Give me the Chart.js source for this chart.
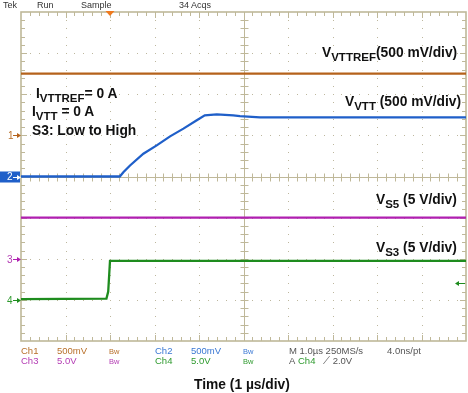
<!DOCTYPE html>
<html>
<head>
<meta charset="utf-8">
<script src="https://cdn.jsdelivr.net/npm/chart.js@4.4.0/dist/chart.umd.min.js"></script>
<style>
    body { margin: 0; background: #fff; }
    #wrap { position: relative; width: 468px; height: 393px; font-family: "Liberation Sans", Arial, sans-serif; overflow: hidden; }
    #wrap canvas { position: absolute; left: 0; top: 0; }
    .t { position: absolute; line-height: 1; white-space: nowrap; }
    .st { font-size: 9.5px; color: #555; }
    .hd { font-size: 9px; color: #333; }
    .mk { font-size: 10px; }
    .an { font-size: 13.8px; font-weight: bold; color: #111; }
    .an sub { font-size: 11.5px; vertical-align: -4px; line-height: 1; }
    .bw { font-size: 7.5px; }
    .c1 { color: #b8702a; } .c2 { color: #3a78d4; } .c3 { color: #b43cb4; } .c4 { color: #2e9a2e; }
</style>
</head>
<body>
<div id="wrap">
    <canvas id="scope" width="468" height="393"></canvas>

    <!-- cabeçalho -->
    <div class="t hd" data-x="3" data-b="9">Tek</div>
    <div class="t hd" data-x="37" data-b="9">Run</div>
    <div class="t hd" data-x="81" data-b="9">Sample</div>
    <div class="t hd" data-x="179" data-b="9">34 Acqs</div>

    <!-- marcadores de terra -->
    <div class="t mk c1" data-x="8" data-b="139">1</div>
    <div class="t mk" style="color:#fff" data-x="7" data-b="180">2</div>
    <div class="t mk c3" data-x="7" data-b="263.5">3</div>
    <div class="t mk c4" data-x="7" data-b="304.5">4</div>

    <!-- anotações -->
    <div class="t an" data-x="36" data-b="99">I<sub>VTTREF</sub>= 0 A</div>
    <div class="t an" data-x="32" data-b="117">I<sub>VTT</sub> = 0 A</div>
    <div class="t an" data-x="32" data-b="136">S3: Low to High</div>
    <div class="t an" data-x="322" data-b="58">V<sub>VTTREF</sub>(500 mV/div)</div>
    <div class="t an" data-x="345" data-b="107">V<sub>VTT</sub> (500 mV/div)</div>
    <div class="t an" data-x="376" data-b="205">V<sub>S5</sub> (5 V/div)</div>
    <div class="t an" data-x="376" data-b="253">V<sub>S3</sub> (5 V/div)</div>

    <!-- rodapé de status -->
    <div class="t st c1" data-x="21" data-b="354">Ch1</div>
    <div class="t st c1" data-x="57" data-b="354">500mV</div>
    <div class="t bw c1" data-x="109" data-b="354">Bw</div>
    <div class="t st c2" data-x="155" data-b="354">Ch2</div>
    <div class="t st c2" data-x="191" data-b="354">500mV</div>
    <div class="t bw c2" data-x="243" data-b="354">Bw</div>
    <div class="t st" data-x="289" data-b="354">M 1.0µs 250MS/s</div>
    <div class="t st" data-x="387" data-b="354">4.0ns/pt</div>

    <div class="t st c3" data-x="21" data-b="364">Ch3</div>
    <div class="t st c3" data-x="57" data-b="364">5.0V</div>
    <div class="t bw c3" data-x="109" data-b="364">Bw</div>
    <div class="t st c4" data-x="155" data-b="364">Ch4</div>
    <div class="t st c4" data-x="191" data-b="364">5.0V</div>
    <div class="t bw c4" data-x="243" data-b="364">Bw</div>
    <div class="t st" data-x="289" data-b="364">A</div>
    <div class="t st c4" data-x="298" data-b="364">Ch4</div>
    <div class="t st" data-x="323" data-b="364">⟋ 2.0V</div>

    <div class="t an" id="xTitle" data-x="242" data-b="390" style="font-size:13.8px">Time (1 µs/div)</div>
</div>

<script>
const vttrefTime = [-2, 8];
const vttrefVolts = [0.75, 0.75];

const vttTime = [-2, 0.22, 0.3, 0.45, 0.75, 1.05, 1.35, 1.65, 1.95, 2.13, 2.4, 2.77, 2.92, 3.37, 8];
const vttVolts = [0, 0, 0.052, 0.134, 0.277, 0.378, 0.488, 0.582, 0.683, 0.744, 0.756, 0.744, 0.735, 0.72, 0.72];

const vs5Time = [-2, 8];
const vs5Volts = [5.0, 5.0];

const vs3Time = [-2, -0.08, -0.04, 0, 8];
const vs3Volts = [0.1, 0.15, 1.0, 4.75, 4.75];

// Configuração dos canais: terra (em divisões) e V/div
const chNames = ['Ch1', 'Ch2', 'Ch3', 'Ch4'];
const chGroundDiv = [1, 0, -2, -3];
const chVoltsPerDiv = [0.5, 0.5, 5, 5];
const chColors = ['#b5621b', '#1f5fc9', '#b01fb0', '#1e8c1e'];

const timeMin = -2, timeMax = 8;
const trigLevel = 2.0; // V, no Ch4

const gridColor = '#bfb899';
const dotColor = '#bdb79e';

// converte volts do canal em divisões da tela
function toDiv(ch, times, volts) {
    return times.map((t, i) => ({ x: t, y: chGroundDiv[ch] + volts[i] / chVoltsPerDiv[ch] }));
}

// Posiciona os textos pela linha de base
function placeLabels() {
    document.querySelectorAll('#wrap .t').forEach(el => {
        const fs = parseFloat(getComputedStyle(el).fontSize);
        let x = parseFloat(el.dataset.x);
        if (el.id === 'xTitle') x -= el.offsetWidth / 2;
        el.style.left = x + 'px';
        el.style.top = (parseFloat(el.dataset.b) - 0.85 * fs) + 'px';
    });
}

// Graticula do osciloscópio
const graticule = {
    id: 'graticule',
    beforeDatasetsDraw(chart) {
        const { ctx, chartArea: a, scales: { x, y } } = chart;
        ctx.save();

        // pontos das divisões
        ctx.fillStyle = dotColor;
        for (let i = 1; i < 10; i++) {
            if (i === 5) continue;
            const px = Math.round(x.getPixelForValue(timeMin + i));
            for (let j = 1; j < 40; j++) ctx.fillRect(px, Math.round(y.getPixelForValue(-4 + j * 0.2)), 1, 1);
        }
        for (let k = -3; k <= 3; k++) {
            if (k === 0) continue;
            const py = Math.round(y.getPixelForValue(k));
            for (let j = 1; j < 50; j++) ctx.fillRect(Math.round(x.getPixelForValue(timeMin + j * 0.2)), py, 1, 1);
        }

        // borda e eixos centrais
        ctx.strokeStyle = gridColor;
        ctx.lineWidth = 1.6;
        ctx.strokeRect(a.left, a.top, a.right - a.left, a.bottom - a.top);
        const cx = Math.round(x.getPixelForValue(timeMin + 5)) + 0.5;
        const cy = Math.round(y.getPixelForValue(0)) + 0.5;
        ctx.beginPath();
        ctx.moveTo(cx, a.top); ctx.lineTo(cx, a.bottom);
        ctx.moveTo(a.left, cy); ctx.lineTo(a.right, cy);

        // marcas menores
        for (let j = 1; j < 50; j++) {
            const px = Math.round(x.getPixelForValue(timeMin + j * 0.2)) + 0.5;
            const len = j % 5 === 0 ? 6 : 4;
            ctx.moveTo(px, a.top); ctx.lineTo(px, a.top + len);
            ctx.moveTo(px, a.bottom); ctx.lineTo(px, a.bottom - len);
            ctx.moveTo(px, cy - 4); ctx.lineTo(px, cy + 4);
        }
        for (let j = 1; j < 40; j++) {
            const py = Math.round(y.getPixelForValue(-4 + j * 0.2)) + 0.5;
            const len = j % 5 === 0 ? 6 : 4;
            ctx.moveTo(a.left, py); ctx.lineTo(a.left + len, py);
            ctx.moveTo(a.right, py); ctx.lineTo(a.right - len, py);
            ctx.moveTo(cx - 4, py); ctx.lineTo(cx + 4, py);
        }
        ctx.lineWidth = 1;
        ctx.stroke();
        ctx.restore();
    },
    afterDraw(chart) {
        const { ctx, chartArea: a, scales: { x, y } } = chart;
        ctx.save();

        // marcador do gatilho (topo)
        const tx = x.getPixelForValue(0);
        ctx.fillStyle = '#f07a1e';
        ctx.beginPath();
        ctx.moveTo(tx - 4.5, a.top - 1); ctx.lineTo(tx + 4.5, a.top - 1); ctx.lineTo(tx, a.top + 4);
        ctx.closePath(); ctx.fill();

        // caixa azul do canal 2
        const y2 = y.getPixelForValue(chGroundDiv[1]);
        ctx.fillStyle = chColors[1];
        ctx.fillRect(0, y2 - 5, 20, 11);

        // setas de terra
        chGroundDiv.forEach((g, ch) => {
            const py = Math.round(y.getPixelForValue(g)) + 0.5;
            const col = ch === 1 ? '#fff' : chColors[ch];
            ctx.strokeStyle = col; ctx.fillStyle = col; ctx.lineWidth = 1;
            ctx.beginPath(); ctx.moveTo(13, py); ctx.lineTo(a.left - 1, py); ctx.stroke();
            ctx.beginPath(); ctx.moveTo(a.left, py); ctx.lineTo(a.left - 4, py - 2.5); ctx.lineTo(a.left - 4, py + 2.5);
            ctx.closePath(); ctx.fill();
        });

        // nível de gatilho (direita)
        const ly = Math.round(y.getPixelForValue(chGroundDiv[3] + trigLevel / chVoltsPerDiv[3])) + 0.5;
        ctx.strokeStyle = chColors[3]; ctx.fillStyle = chColors[3];
        ctx.beginPath(); ctx.moveTo(458, ly); ctx.lineTo(465, ly); ctx.stroke();
        ctx.beginPath(); ctx.moveTo(455, ly); ctx.lineTo(459, ly - 2.5); ctx.lineTo(459, ly + 2.5);
        ctx.closePath(); ctx.fill();
        ctx.restore();
    }
};

const series = [
    toDiv(0, vttrefTime, vttrefVolts),
    toDiv(1, vttTime, vttVolts),
    toDiv(2, vs5Time, vs5Volts),
    toDiv(3, vs3Time, vs3Volts)
];

new Chart(document.getElementById('scope'), {
    type: 'line',
    data: {
        datasets: series.map((d, i) => ({
            label: chNames[i],
            data: d,
            borderColor: chColors[i],
            borderWidth: 2.3,
            pointRadius: 0,
            tension: 0,
            fill: false
        }))
    },
    options: {
        responsive: false,
        animation: false,
        layout: { padding: { left: 21, top: 12, right: 2, bottom: 52 } },
        plugins: { legend: { display: false }, tooltip: { enabled: false } },
        scales: {
            x: { type: 'linear', min: timeMin, max: timeMax, display: false },
            y: { min: -4, max: 4, display: false }
        }
    },
    plugins: [graticule]
});

placeLabels();
</script>
</body>
</html>
